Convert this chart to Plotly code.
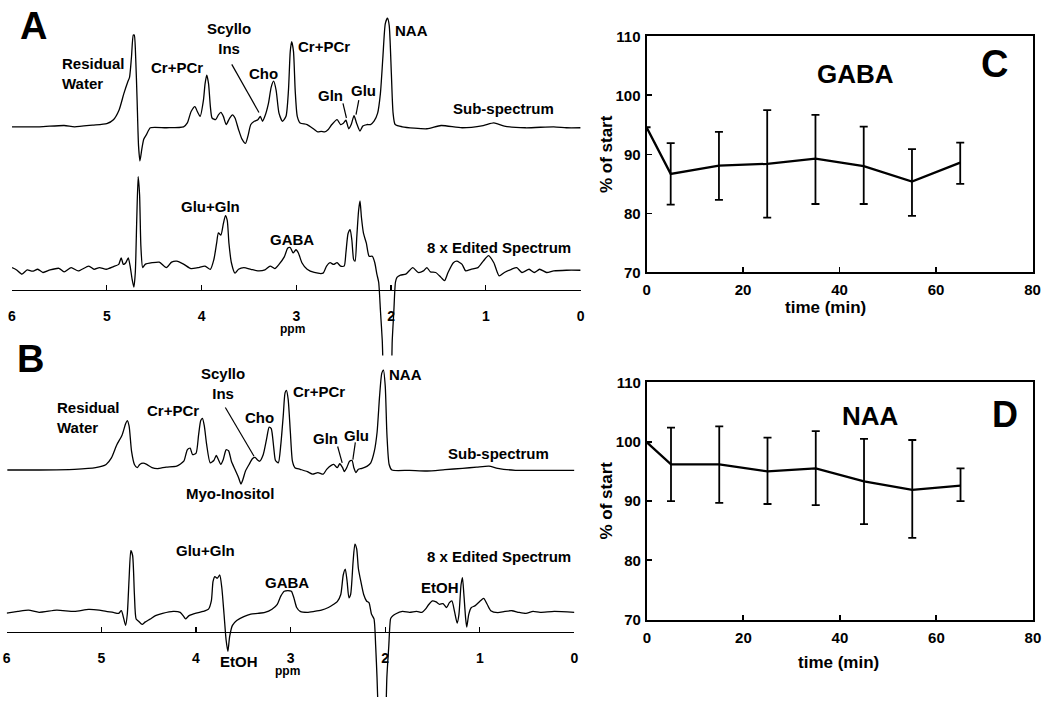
import numpy as np
import plotly.graph_objects as go

W, H = 1050, 705
FONT = "Liberation Sans, Arial, Helvetica, sans-serif"

# ---------------- Spectra (ppm, intensity in arbitrary units) ----------------
ppm_ticks = [6, 5, 4, 3, 2, 1, 0]
ppm_tick_labels = ["6", "5", "4", "3", "2", "1", "0"]

a_sub_ppm = [6.000, 5.710, 5.450, 5.340, 5.150, 5.000, 4.930, 4.870, 4.820, 4.780,
             4.760, 4.740, 4.720, 4.710, 4.695, 4.680, 4.665, 4.650, 4.630, 4.610,
             4.580, 4.540, 4.370, 4.190, 4.150, 4.110, 4.070, 4.045, 4.015, 3.980,
             3.963, 3.945, 3.926, 3.907, 3.889, 3.852, 3.822, 3.796, 3.770, 3.740,
             3.703, 3.673, 3.647, 3.610, 3.573, 3.536, 3.510, 3.480, 3.443, 3.406,
             3.380, 3.357, 3.332, 3.294, 3.265, 3.239, 3.213, 3.183, 3.146, 3.109,
             3.083, 3.064, 3.049, 3.030, 3.012, 2.990, 2.960, 2.886, 2.811, 2.774,
             2.737, 2.700, 2.663, 2.625, 2.570, 2.533, 2.507, 2.477, 2.447, 2.421,
             2.391, 2.365, 2.328, 2.298, 2.254, 2.217, 2.180, 2.142, 2.113, 2.087,
             2.061, 2.038, 2.020, 1.997, 1.979, 1.957, 1.882, 1.622, 1.473, 1.250,
             1.028, 0.916, 0.805, 0.582, 0.284, 0.150, 0.000]
a_sub_int = [0, 0, 1.3, 0, 1.7, 3.3, 7.3, 17.3, 34, 45.7,
             50.7, 70.7, 94, 94, 70.7, 27.3, -19.3, -35, -22.7, -12.7,
             -7.7, -1, -1, 0, 4, 15.7, 20.7, 15.7, 10.7, 27.3,
             44, 53, 44, 20.7, 9, 7.3, 12.3, 14.7, 10.7, 2.3,
             9, 12.3, 9, -2.7, -12.7, -17, -9.3, 2.3, 5.7, 7.3,
             10.7, 5.7, 10.7, 24, 40.7, 46.7, 37.3, 14, 5.7, 10.7,
             37.3, 77.3, 87.3, 77.3, 37.3, 10.7, 4, 2.3, -2.7, -5.3,
             -4.7, -5.3, -2.7, 2.3, 7.3, 2.3, 3.3, 6.7, -2, 2.3,
             11.3, 4, -4.3, 0.7, 2.3, 2.3, 5.7, 14, 34, 70.7,
             105.7, 111.3, 104, 54, 14, 2.3, 0, -2, 1.3, -1,
             1.3, 4, 0.7, -1, 0, -1, -1]

a_edit_ppm = [6.000, 5.951, 5.896, 5.840, 5.784, 5.728, 5.673, 5.598, 5.505, 5.450,
              5.375, 5.301, 5.190, 5.134, 5.078, 5.004, 4.929, 4.874, 4.848, 4.825,
              4.799, 4.773, 4.751, 4.733, 4.714, 4.699, 4.684, 4.669, 4.654, 4.640,
              4.621, 4.595, 4.521, 4.446, 4.372, 4.316, 4.261, 4.186, 4.112, 4.038,
              3.963, 3.907, 3.870, 3.841, 3.822, 3.796, 3.770, 3.748, 3.729, 3.711,
              3.685, 3.647, 3.610, 3.554, 3.480, 3.406, 3.331, 3.276, 3.227, 3.183,
              3.127, 3.090, 3.064, 3.034, 3.004, 2.978, 2.941, 2.886, 2.811, 2.718,
              2.681, 2.644, 2.607, 2.570, 2.533, 2.495, 2.477, 2.454, 2.432, 2.414,
              2.395, 2.380, 2.362, 2.343, 2.328, 2.313, 2.291, 2.261, 2.232, 2.198,
              2.172, 2.150, 2.131, 2.112, 2.093, 2.085, 2.065, 2.040, 2.010, 1.995,
              1.988, 1.971, 1.954, 1.938, 1.901, 1.845, 1.771, 1.715, 1.659, 1.622,
              1.585, 1.529, 1.473, 1.436, 1.399, 1.343, 1.306, 1.251, 1.213, 1.158,
              1.083, 1.028, 0.972, 0.916, 0.860, 0.805, 0.730, 0.674, 0.619, 0.544,
              0.489, 0.433, 0.359, 0.284, 0.150, 0.000]
a_edit_int = [1.7, -0.7, -5, -0.7, -2, 0, -3.3, -0.7, 1, -2.7,
              1.7, -1.7, 3.3, 0, 1.7, 0, 2.7, 5, 11.7, 5,
              6.7, 11.7, 1.7, -10, -18.3, -3.3, 50, 95, 76.7, 23.3,
              1.7, 5, 6.7, 7.3, 1.7, 7.3, 8.3, 5, 0.7, 1.7,
              3.3, 0, 10, 26.7, 37.3, 35, 46.7, 55, 50, 26.7,
              6.7, -4, 0, 1.7, 0, -1.7, -0.7, 3.3, 0.7, 5,
              12.7, 21.7, 22.3, 16.7, 20, 16.7, 6.7, 0, -3.3, -4,
              3.3, 6.7, 5, 6.7, 3.3, 3.3, 16.7, 36.7, 40.7, 30,
              10, 8.3, 33.3, 60, 70, 53.3, 36.7, 26.7, 13.3, 13.3,
              6.7, -5, -13.3, -43, -73.3, -100, -160, -190, -160, -110,
              -73.3, -43, -13.3, -8.3, -6, -5, 1.7, -3.3, -1.7, 1.7,
              -2.7, -3.3, -8.3, -11.7, -3.3, 6.7, 8.3, 5, -1.7, 0,
              1.7, 8.3, 14, 6.7, -6.7, -3.3, 0, 1.7, -3.3, 0,
              -3.3, 0, -3.3, -1.7, -1, -1]

b_sub_ppm = [5.993, 5.657, 5.284, 5.060, 4.949, 4.893, 4.837, 4.781, 4.743, 4.725,
             4.706, 4.680, 4.650, 4.620, 4.594, 4.557, 4.520, 4.464, 4.408, 4.315,
             4.203, 4.128, 4.091, 4.061, 4.035, 3.998, 3.972, 3.949, 3.931, 3.912,
             3.886, 3.849, 3.811, 3.785, 3.763, 3.737, 3.711, 3.681, 3.655, 3.625,
             3.588, 3.550, 3.524, 3.502, 3.476, 3.438, 3.401, 3.375, 3.353, 3.327,
             3.289, 3.252, 3.226, 3.204, 3.177, 3.159, 3.129, 3.103, 3.077, 3.058,
             3.043, 3.025, 3.002, 2.980, 2.954, 2.898, 2.823, 2.767, 2.711, 2.655,
             2.618, 2.570, 2.544, 2.506, 2.480, 2.450, 2.432, 2.406, 2.376, 2.350,
             2.331, 2.309, 2.283, 2.245, 2.189, 2.152, 2.115, 2.085, 2.059, 2.036,
             2.018, 1.999, 1.981, 1.958, 1.928, 1.742, 1.556, 1.369, 1.183, 1.033,
             0.903, 0.810, 0.623, 0.362, 0.183, 0.000]
b_sub_int = [-0.7, -0.7, 0, 1.7, 5, 11.7, 25, 35, 46.7, 50,
             44.3, 18.3, 5, 1.7, 5, 6.3, 5, 1.7, 0.7, 2.3,
             3.3, 8.3, 20, 21.7, 15, 16.7, 35, 50, 52.3, 45,
             25, 6.7, 9, 14.3, 10, 5, 10, 20, 19, 8.3,
             0, -8.3, -15, -10, -1.7, 5, 11, 12.3, 10, 8.3,
             15, 31.7, 43.3, 41.7, 21.7, 9, 6.7, 25, 55, 78.3,
             81, 71.7, 38.3, 8.3, 1.7, 0, -2.3, -5, -3.3, -5,
             0, 4, 5, 1.7, 5.7, 1.7, -2.3, 1.7, 8.3, 9,
             1.7, -3.3, 0, 1, 3.3, 6.7, 18.3, 38.3, 75, 98.3,
             101.7, 85, 35, 5, -0.7, -1, -1.7, -0.3, 1, 2.3,
             3.3, 1, -1, -1, -1, -1]

b_edit_ppm = [6.000, 5.881, 5.769, 5.657, 5.471, 5.284, 5.135, 5.023, 4.949, 4.874,
              4.818, 4.788, 4.762, 4.743, 4.725, 4.706, 4.688, 4.669, 4.650, 4.632,
              4.606, 4.568, 4.538, 4.482, 4.427, 4.352, 4.240, 4.166, 4.128, 4.110,
              4.072, 3.998, 3.923, 3.867, 3.837, 3.819, 3.800, 3.774, 3.748, 3.726,
              3.703, 3.681, 3.662, 3.644, 3.614, 3.569, 3.494, 3.420, 3.345, 3.271,
              3.196, 3.140, 3.103, 3.066, 3.028, 2.991, 2.965, 2.935, 2.898, 2.823,
              2.749, 2.674, 2.600, 2.544, 2.506, 2.469, 2.443, 2.421, 2.402, 2.383,
              2.365, 2.339, 2.320, 2.301, 2.283, 2.257, 2.227, 2.197, 2.171, 2.145,
              2.118, 2.100, 2.086, 2.075, 2.050, 2.020, 1.995, 1.982, 1.962, 1.943,
              1.928, 1.891, 1.817, 1.742, 1.667, 1.611, 1.574, 1.537, 1.500, 1.462,
              1.425, 1.388, 1.351, 1.321, 1.295, 1.265, 1.239, 1.220, 1.198, 1.183,
              1.168, 1.149, 1.138, 1.116, 1.089, 1.052, 0.996, 0.959, 0.922, 0.884,
              0.810, 0.735, 0.661, 0.586, 0.512, 0.437, 0.362, 0.213, 0.000]
b_edit_int = [-0.7, 1, 2.3, 0, 2.3, 1, 3, 2.3, 1, 0,
              -1, 1.7, -6.7, -13.3, -1.7, 35, 63.3, 58.3, 18.3, -6.7,
              -9, -12.3, -10, -6.7, -3.3, -1, 1, 0, -4.3, -6.7,
              -3.3, -0.7, 1, 3.3, 11.7, 31.7, 36.7, 35, 38.3, 25,
              -1.7, -28.3, -40, -25, -13.3, -8.3, -4.3, -1.7, -1, 0,
              3.3, 8.3, 16.7, 21.7, 22.3, 21.7, 15, 5, 1, 0,
              1, 2.3, 5, 8.3, 11, 18.3, 38.3, 44.3, 31.7, 15,
              18.3, 51.7, 70, 65, 45, 31.7, 18.3, 11.7, 10, -1.7,
              -6.7, -35, -66.7, -100, -170, -190, -120, -66.7, -35, -6.7,
              -4.3, -1.7, 1, 0, 1, 0, 3.3, 8.3, 11.7, 10.7,
              8.3, 9, 5, 10, 11.7, 0, -11, -1.7, 28.3, 35.7,
              18.3, -6.7, -15, -1.7, 5, 6.7, 11.7, 14.3, 8.3, 1.7,
              -0.3, 1, 1.7, 0, -1, 1, 0, 1, 0]

# ---------------- Time courses (% of start) ----------------
time_min = [0, 5, 15, 25, 35, 45, 55, 65]
gaba_mean = [94.6, 86.7, 88.1, 88.4, 89.3, 88.0, 85.4, 88.6]
gaba_upper = [None, 91.9, 93.8, 97.5, 96.7, 94.7, 90.9, 92.0]
gaba_lower = [None, 81.5, 82.3, 79.3, 81.6, 81.6, 79.6, 85.0]
naa_mean = [99.9, 96.2, 96.2, 95.0, 95.5, 93.3, 91.9, 92.6]
naa_upper = [None, 102.4, 102.6, 100.7, 101.8, 100.5, 100.3, 95.5]
naa_lower = [None, 90.0, 89.7, 89.5, 89.3, 86.1, 83.8, 90.0]


def px(x):
    return x / W


def py(y):
    return 1 - y / H


def err(upper, lower, mean):
    plus = [None if u is None else u - m for u, m in zip(upper, mean)]
    minus = [None if lo is None else m - lo for lo, m in zip(lower, mean)]
    return plus, minus


fig = go.Figure()

spec_line = dict(color="black", width=1.3, shape="spline", smoothing=0.6)
# vertical layout offsets (baseline positions) of each spectrum
OFF_A_SUB, OFF_A_EDIT = 120.7, 266.7
OFF_B_SUB, OFF_B_EDIT = 471.7, 618.3

for xs, ys, off, xa, ya in [
    (a_sub_ppm, a_sub_int, OFF_A_SUB, "x", "y"),
    (a_edit_ppm, a_edit_int, OFF_A_EDIT, "x", "y"),
    (b_sub_ppm, b_sub_int, OFF_B_SUB, "x2", "y2"),
    (b_edit_ppm, b_edit_int, OFF_B_EDIT, "x2", "y2"),
]:
    fig.add_trace(go.Scatter(x=xs, y=np.array(ys) - off, xaxis=xa, yaxis=ya,
                             mode="lines", line=spec_line, hoverinfo="skip",
                             showlegend=False))

for mean, up, lo, xa, ya in [
    (gaba_mean, gaba_upper, gaba_lower, "x3", "y3"),
    (naa_mean, naa_upper, naa_lower, "x4", "y4"),
]:
    plus, minus = err(up, lo, mean)
    fig.add_trace(go.Scatter(
        x=time_min, y=mean, xaxis=xa, yaxis=ya, mode="lines",
        line=dict(color="black", width=2.3), showlegend=False, hoverinfo="skip",
        error_y=dict(type="data", symmetric=False, array=plus, arrayminus=minus,
                     color="black", thickness=1.8, width=4)))

tickfont_l = dict(family=FONT, size=14, color="black", weight="bold")
tickfont_r = dict(family=FONT, size=15, color="black", weight="bold")

ppm_axis = dict(range=[6, 0], anchor="free", showline=True, linecolor="black",
                linewidth=1.2, ticks="inside", ticklen=5, tickwidth=1.2,
                tickcolor="black", tickvals=ppm_ticks, ticktext=ppm_tick_labels,
                tickfont=tickfont_l, showgrid=False, zeroline=False,
                ticklabelstandoff=13, ticklabeloverflow="allow", fixedrange=True)

time_x = dict(range=[0, 80], dtick=20, tick0=0, showline=True, mirror=True,
              linecolor="black", linewidth=2, ticks="inside", ticklen=5,
              tickwidth=1.8, tickcolor="black", tickfont=tickfont_r,
              showgrid=False, zeroline=False, ticklabelstandoff=3,
              ticklabeloverflow="allow")
pct_y = dict(range=[70, 110], dtick=10, tick0=70, showline=True, mirror=True,
             linecolor="black", linewidth=2, ticks="inside", ticklen=5,
             tickwidth=1.8, tickcolor="black", tickfont=tickfont_r,
             showgrid=False, zeroline=False, ticklabelstandoff=1,
             ticklabeloverflow="allow")

fig.update_layout(
    width=W, height=H, margin=dict(l=0, r=0, t=0, b=0),
    paper_bgcolor="white", plot_bgcolor="white", showlegend=False,
    xaxis=dict(ppm_axis, domain=[px(8.1), px(583.3)], position=py(287.5)),
    yaxis=dict(domain=[py(355), 1], range=[-355, 0], visible=False, fixedrange=True),
    xaxis2=dict(ppm_axis, domain=[px(2.7), px(577.0)], position=py(638.3)),
    yaxis2=dict(domain=[0, py(355)], range=[-705, -355], visible=False,
                fixedrange=True, anchor="x2"),
    xaxis3=dict(time_x, domain=[px(650), px(1040.5)], anchor="y3"),
    yaxis3=dict(pct_y, domain=[py(270), py(28)], anchor="x3"),
    xaxis4=dict(time_x, domain=[px(650.3), px(1040.8)], anchor="y4"),
    yaxis4=dict(pct_y, domain=[py(625.7), py(382.7)], anchor="x4"),
)

annos = []


def lab(text, x, y, size=15, xanchor="center", align="center", angle=0):
    annos.append(dict(text="<b>" + text + "</b>", x=px(x), y=py(y), xref="paper",
                      yref="paper", xanchor=xanchor, yanchor="middle", align=align,
                      showarrow=False, textangle=angle, borderpad=0,
                      font=dict(family=FONT, size=size, color="black")))


# Panel A
lab("A", 29.5, 17.5, size=38)
lab("Residual<br>Water", 57.9, 65.8, xanchor="left", align="left")
lab("Cr+PCr", 175, 60)
lab("Scyllo<br>Ins", 228, 30)
lab("Cho", 263, 65.7)
lab("Cr+PCr", 323.2, 38.3)
lab("NAA", 412.5, 21.7)
lab("Gln", 330.7, 88.3)
lab("Glu", 363.4, 83.3)
lab("Sub-spectrum", 453.6, 101.7, xanchor="left")
lab("Glu+Gln", 208.9, 202.7)
lab("GABA", 291, 236)
lab("8 x Edited Spectrum", 426.8, 244.3, xanchor="left")
lab("ppm", 292, 328, size=12)
# Panel B
lab("B", 26.8, 359, size=38)
lab("Residual<br>Water", 52.9, 418.7, xanchor="left", align="left")
lab("Cr+PCr", 170.5, 411.7)
lab("Scyllo<br>Ins", 221.4, 383.8)
lab("Cho", 258, 419)
lab("Cr+PCr", 318.8, 391.7)
lab("NAA", 406, 375)
lab("Gln", 325, 440)
lab("Glu", 357, 436.7)
lab("Sub-spectrum", 448.2, 455, xanchor="left")
lab("Myo-Inositol", 228.6, 496.7)
lab("Glu+Gln", 203.6, 555)
lab("GABA", 286, 587.3)
lab("8 x Edited Spectrum", 426.8, 561, xanchor="left")
lab("EtOH", 440.7, 593.3)
lab("EtOH", 237.9, 668.3)
lab("ppm", 286.3, 678, size=12)
# Panel C
lab("GABA", 861.7, 66.7, size=26)
lab("C", 1001.7, 56, size=38)
lab("% of start", 609.3, 148.3, size=17, angle=-90)
lab("time (min)", 830.5, 306, size=17)
# Panel D
lab("NAA", 876.7, 417.3, size=26)
lab("D", 1013, 415.5, size=36)
lab("% of start", 609.3, 503.3, size=17, angle=-90)
lab("time (min)", 843.7, 670, size=17)

fig.update_layout(annotations=annos)

shapes = []
for (x0, y0, x1, y1) in [
    (230.4, 56.7, 257.9, 106.0),   # A Scyllo-Ins
    (342.9, 96.7, 346.4, 111.7),   # A Gln
    (358.9, 93.3, 356.1, 108.3),   # A Glu
    (223.9, 408.3, 252.9, 458.3),  # B Scyllo-Ins
    (337.5, 448.3, 342.1, 465.0),  # B Gln
    (355.4, 444.0, 352.9, 461.7),  # B Glu
]:
    shapes.append(dict(type="line", xref="paper", yref="paper",
                       x0=px(x0), y0=py(y0), x1=px(x1), y1=py(y1),
                       line=dict(color="black", width=1.2)))
fig.update_layout(shapes=shapes)

fig.write_html(
    "out.html",
    config={"displayModeBar": False, "staticPlot": True},
    post_script="document.body.style.margin='0';document.body.style.overflow='hidden';",
)
